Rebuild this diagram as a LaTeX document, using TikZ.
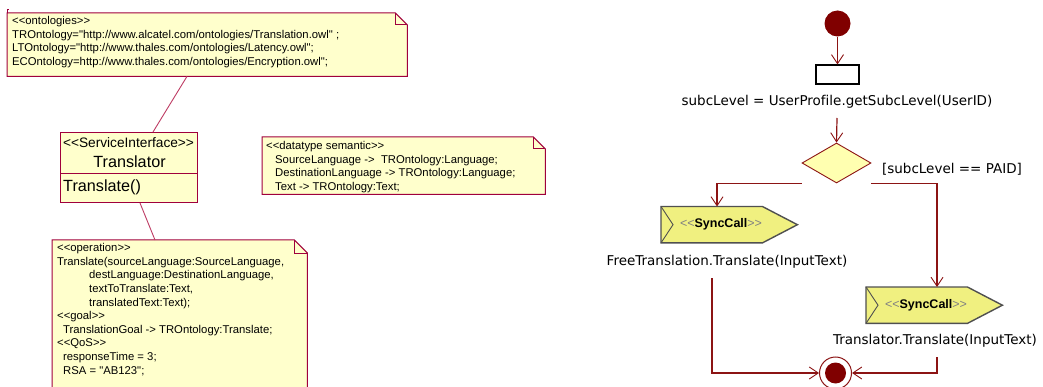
\documentclass[tikz,border=0pt]{standalone}
\usepackage{fontspec}
\setmainfont{Liberation Sans}[Ligatures={TeXOff,CommonOff}]
\newfontfamily\actfont{DejaVu Sans}[Ligatures={TeXOff,CommonOff}]
\usetikzlibrary{arrows.meta,calc,shapes.geometric}
\definecolor{noteborder}{RGB}{160,0,60}
\definecolor{notelink}{RGB}{190,60,100}
\definecolor{notefill}{RGB}{255,255,204}
\definecolor{actline}{RGB}{140,20,20}
\definecolor{startfill}{RGB}{128,0,0}
\definecolor{syncfill}{RGB}{240,240,128}
\definecolor{syncborder}{RGB}{80,80,80}
\definecolor{diafill}{RGB}{255,255,176}
\tikzset{
  notebox/.style={draw=none,inner sep=0pt,anchor=north west},
  notedraw/.style={draw=noteborder,line width=1pt},
  ntext/.style={inner sep=0pt,anchor=base west,align=left,font=\fontsize{11.3}{13.65}\selectfont},
  linkline/.style={draw=notelink,line width=0.9pt},
  flow/.style={draw=actline,line width=1.2pt,-{Straight Barb[length=9pt,width=12pt,line width=0.9pt]}},
  actlab/.style={inner sep=0pt,font=\actfont\fontsize{13.5}{16}\selectfont},
  syncnode/.style={draw=none,inner sep=0pt,anchor=north west,minimum width=136pt,minimum height=36pt},
  synctext/.style={inner sep=0pt,font=\fontsize{12.5}{14}\selectfont},
  syncdraw/.style={draw=syncborder,line width=1.4pt,fill=syncfill,line join=miter},
}
\newcommand\notepath[2]{%
  \filldraw[notedraw,fill=notefill] (#1.north west) -- ($(#1.north east)+(-#2,0)$) -- ($(#1.north east)+(0,#2)$) -- (#1.south east) -- (#1.south west) -- cycle;
  \draw[notedraw] ($(#1.north east)+(-#2,0)$) -- ($(#1.north east)+(-#2,#2)$) -- ($(#1.north east)+(0,#2)$);
}
\newcommand\syncpath[1]{%
  \filldraw[syncdraw] (#1.north west) -- ($(#1.north east)+(-35,0)$) -- (#1.east) -- ($(#1.south east)+(-35,0)$) -- (#1.south west) -- cycle;
  \draw[draw=syncborder,line width=0.9pt] (#1.north west) -- ($(#1.west)+(12,0)$) -- (#1.south west);
}
\begin{document}
\begin{tikzpicture}[x=1pt,y=-1pt]
\clip (0,0) rectangle (1043,387);
\fill[white] (0,0) rectangle (1043,387);

% ---------- left: notes and class ----------
\node[notebox,minimum width=400pt,minimum height=63pt] (onto) at (7,13) {};
\notepath{onto}{12}
\draw[notedraw] (onto.north west) -- ++(0,-3) -- ++(2,0);
% base anchor of a multi-line node is the baseline of its last line
\node[ntext] (ontotext) at (12,65.5) {<<ontologies>>\\
TROntology="http://www.alcatel.com/ontologies/Translation.owl" ;\\
LTOntology="http://www.thales.com/ontologies/Latency.owl";\\
ECOntology=http://www.thales.com/ontologies/Encryption.owl";};

\node[notebox,draw=noteborder,line width=1pt,fill=notefill,minimum width=137pt,minimum height=70pt] (cls) at (60,132) {};
\draw[notedraw] (cls.west |- 0,174) -- (cls.east |- 0,174);
\node[inner sep=0pt,font=\fontsize{13.7}{16}\selectfont] (clsst) at (128.5,143) {<<ServiceInterface>>};
\node[inner sep=0pt,font=\fontsize{16.2}{18}\selectfont] (clsname) at (129.5,162) {Translator};
\node[inner sep=0pt,anchor=west,font=\fontsize{16.2}{18}\selectfont] (clsop) at (63,187.5) {Translate()};

\node[notebox,minimum width=283pt,minimum height=57pt] (dtype) at (262,137) {};
\notepath{dtype}{12}
\node[ntext] (dtypetext) at (266,190.5) {<<datatype semantic>>\\
\hspace*{9pt}SourceLanguage ->\ \ TROntology:Language;\\
\hspace*{9pt}DestinationLanguage -> TROntology:Language;\\
\hspace*{9pt}Text -> TROntology:Text;};

\node[notebox,minimum width=255pt,minimum height=170pt] (oper) at (52,240) {};
\notepath{oper}{13}
\node[ntext,font=\fontsize{11.3}{13.6}\selectfont] (opertext) at (57,374) {<<operation>>\\
Translate(sourceLanguage:SourceLanguage,\\
\hspace*{32pt}destLanguage:DestinationLanguage,\\
\hspace*{32pt}textToTranslate:Text,\\
\hspace*{32pt}translatedText:Text);\\
<<goal>>\\
\hspace*{6pt}TranslationGoal -> TROntology:Translate;\\
<<QoS>>\\
\hspace*{6pt}responseTime = 3;\\
\hspace*{6pt}RSA = "AB123";};

\draw[linkline] ($(onto.south west)+(180,0)$) -- ($(cls.north west)+(93,0)$);
\draw[linkline] ($(cls.south west)+(80,0)$) -- ($(oper.north west)+(103,0)$);

% ---------- right: activity ----------
\node[circle,fill=startfill,draw=none,inner sep=0pt,minimum size=26pt] (start) at (837.5,23.5) {};
\node[draw=black,line width=1.2pt,fill=white,inner sep=0pt,minimum width=43pt,minimum height=19pt] (act) at (837.5,74.5) {};
\node[actlab] (actlab) at (837,102) {subcLevel = UserProfile.getSubcLevel(UserID)};
\coordinate (a1) at (837,118);
\node[diamond,draw=actline,line width=0.9pt,fill=diafill,inner sep=0pt,minimum width=69pt,minimum height=40pt] (dia) at (836.5,163) {};
\node[actlab] (guard) at (952,169) {[subcLevel == PAID]};

\node[syncnode] (s1) at (661,206.5) {};
\syncpath{s1}
\node[synctext] (s1t) at (721,224.5) {\textcolor{gray}{<<}\textbf{SyncCall}\textcolor{gray}{>>}};
\node[actlab] (s1lab) at (727,262) {FreeTranslation.Translate(InputText)};
\coordinate (f1) at (712,278);

\node[syncnode] (s2) at (866,287) {};
\syncpath{s2}
\node[synctext] (s2t) at (926,305) {\textcolor{gray}{<<}\textbf{SyncCall}\textcolor{gray}{>>}};
\node[actlab] (s2lab) at (935,341) {Translator.Translate(InputText)};
\coordinate (f2) at (937,357);

\node[circle,draw=actline,line width=1pt,fill=white,inner sep=0pt,minimum size=32pt] (end) at (835.5,373) {};
\fill[startfill] (end.center) circle (10.5);

\draw[flow] (start) -- (act);
\draw[flow] (a1) -- (dia.north);
\draw[flow] (dia.west |- dia.south) -| ($(s1.north west)+(56,0)$);
\draw[flow] (dia.east |- dia.south) -| ($(s2.north west)+(71,0)$);
\draw[flow] (f1) |- (end.west);
\draw[flow] (f2) |- (end.east);
\end{tikzpicture}
\end{document}
